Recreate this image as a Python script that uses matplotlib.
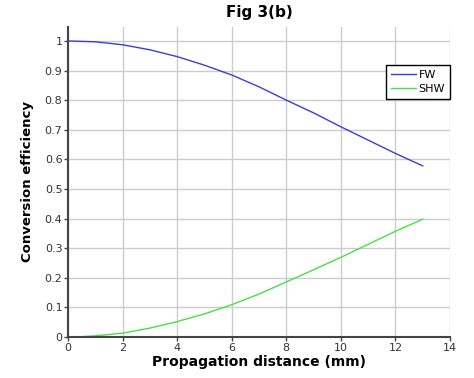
import matplotlib
matplotlib.use("Agg")
import matplotlib.pyplot as plt

# values
fw_x = [0, 1, 2, 3, 4, 5, 6, 7, 8, 9, 10, 11, 12, 13]
fw_y = [1.0, 0.997, 0.987, 0.97, 0.947, 0.918, 0.885, 0.845, 0.80, 0.757, 0.71, 0.665, 0.62, 0.578]
shw_x = [0.5, 1, 2, 3, 4, 5, 6, 7, 8, 9, 10, 11, 12, 13]
shw_y = [0.001, 0.004, 0.013, 0.03, 0.052, 0.078, 0.109, 0.145, 0.186, 0.227, 0.269, 0.313, 0.357, 0.398]
x_ticks = [0, 2, 4, 6, 8, 10, 12, 14]
y_ticks = [0, 0.1, 0.2, 0.3, 0.4, 0.5, 0.6, 0.7, 0.8, 0.9, 1]
y_labels = ["0", "0.1", "0.2", "0.3", "0.4", "0.5", "0.6", "0.7", "0.8", "0.9", "1"]

plt.rcParams['font.family'] = ['DejaVu Sans']

fig = plt.figure(figsize=(4.74, 3.78), dpi=100)
ax = fig.add_axes([68/474, 1 - 337/378, (450 - 68)/474, (337 - 27)/378])

ax.plot(fw_x, fw_y, color='#3c3cdc', lw=1.0, label='FW')
ax.plot(shw_x, shw_y, color='#46e046', lw=1.0, label='SHW')

ax.set_xlim(0, 14)
ax.set_ylim(0, 1.047)
ax.set_xticks(x_ticks)
ax.set_yticks(y_ticks)
ax.set_yticklabels(y_labels)
ax.grid(True, color='#cccccc', lw=1.0)
ax.set_axisbelow(True)

for s in ['top', 'right']:
    ax.spines[s].set_visible(False)
for s in ['left', 'bottom']:
    ax.spines[s].set_color('#444444')
    ax.spines[s].set_linewidth(1.5)
ax.tick_params(direction='out', length=3, width=1, colors='#444444', labelsize=8, labelcolor='#333333', pad=1)

ax.set_title("Fig 3(b)", fontsize=11, fontweight='bold', pad=7)
ax.set_xlabel("Propagation distance (mm)", fontsize=10, fontweight='bold', labelpad=2)
ax.set_ylabel("Conversion efficiency", fontsize=9.5, fontweight='bold', labelpad=8)

leg = ax.legend(loc='upper right', bbox_to_anchor=(1.0, 0.877), borderaxespad=0, fontsize=8,
                fancybox=False, framealpha=1, edgecolor='black', handlelength=2.3, borderpad=0.45,
                labelspacing=0.35, handletextpad=0.2)
leg.get_frame().set_linewidth(1.0)

fig.savefig("out.png", dpi=100)
